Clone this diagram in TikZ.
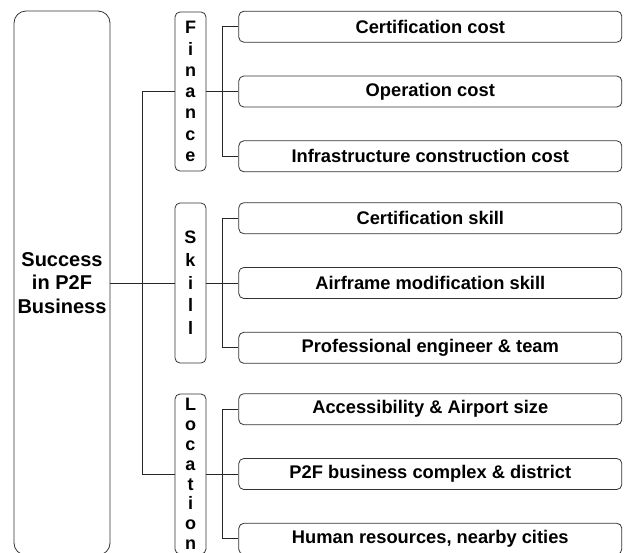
\documentclass[tikz,border=0pt]{standalone}
\usepackage{fontspec}
\setmainfont{Liberation Sans}
\usepackage{tikz}
\usetikzlibrary{calc,positioning}
\tikzset{
  goal/.style   = {draw=black!80, line width=0.8pt, rounded corners=12pt,
                   minimum width=96pt, minimum height=544pt, inner sep=0pt,
                   align=center, font=\bfseries\fontsize{20}{23.5}\selectfont},
  factor/.style = {draw=black!80, line width=0.8pt, rounded corners=5pt,
                   minimum width=31pt, inner sep=0pt, align=center},
  leaf/.style   = {draw=black!80, line width=0.8pt, rounded corners=5pt,
                   minimum width=383pt, minimum height=31pt, inner sep=0pt,
                   font=\bfseries\fontsize{18.3}{21}\selectfont},
  link/.style   = {draw=black!85, line width=0.7pt}
}

\begin{document}
\begin{tikzpicture}[x=1pt, y=-1pt]
  \useasboundingbox (0,0) rectangle (626,552);
  \clip (0,0) rectangle (626,552);

  % goal on the left, three factors in the middle
  \node[goal] (success) at (62,283) {Success\\in P2F\\Business};
  \node[factor, minimum height=159pt,
        font=\bfseries\fontsize{18}{21.3}\selectfont]
        (finance) at (190.5,91.5) {F\\i\\n\\a\\n\\c\\e};
  \node[factor, minimum height=160pt,
        font=\bfseries\fontsize{18}{22.7}\selectfont]
        (skill) at (190.5,283) {S\\k\\i\\l\\l};
  \node[factor, minimum height=160pt,
        font=\bfseries\fontsize{18}{19.8}\selectfont]
        (location) at (190.5,474) {L\\o\\c\\a\\t\\i\\o\\n};

  % finance items
  \node[leaf, right=32pt of finance] (opcost)    {Operation cost};
  \node[leaf, above=33pt of opcost]  (certcost)  {Certification cost};
  \node[leaf, below=33pt of opcost]  (infracost) {Infrastructure construction cost};

  % skill items
  \node[leaf, right=32pt of skill]   (airframe)  {Airframe modification skill};
  \node[leaf, above=33pt of airframe] (certskill) {Certification skill};
  \node[leaf, below=33pt of airframe] (engineer) {Professional engineer \& team};

  % location items
  \node[leaf, right=32pt of location] (complex)  {P2F business complex \& district};
  \node[leaf, above=33pt of complex]  (airport)  {Accessibility \& Airport size};
  \node[leaf, below=33pt of complex]  (people)   {Human resources, nearby cities};

  % tree lines
  \coordinate (fork) at ($(success.east)!.5!(skill.west)$);
  \draw[link] (success) -- (skill);
  \draw[link] (finance.west) -| (fork) |- (location.west);

  \coordinate (ffork) at ($(finance.east)!.5!(opcost.west)$);
  \draw[link] (finance) -- (opcost);
  \draw[link] (certcost.west) -| (ffork) |- (infracost.west);

  \coordinate (sfork) at ($(skill.east)!.5!(airframe.west)$);
  \draw[link] (skill) -- (airframe);
  \draw[link] (certskill.west) -| (sfork) |- (engineer.west);

  \coordinate (lfork) at ($(location.east)!.5!(complex.west)$);
  \draw[link] (location) -- (complex);
  \draw[link] (airport.west) -| (lfork) |- (people.west);
\end{tikzpicture}
\end{document}
